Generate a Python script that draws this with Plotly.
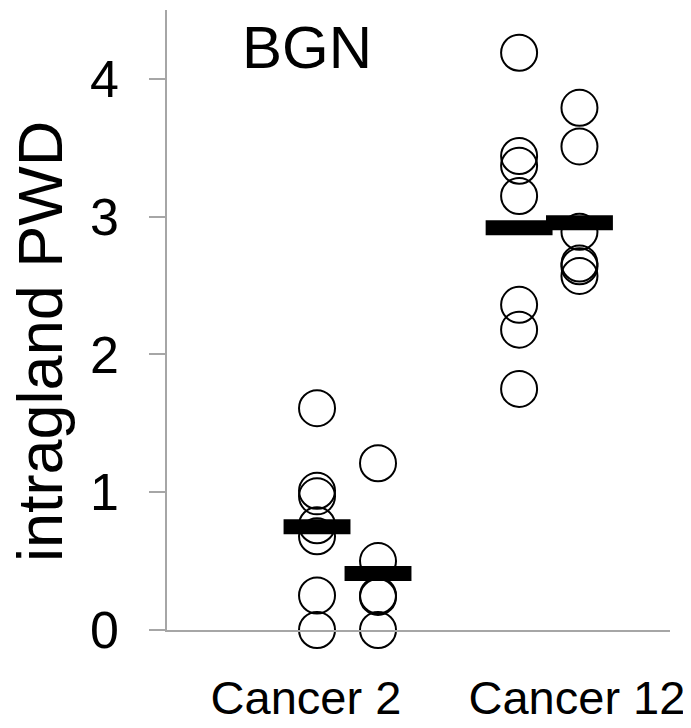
import plotly.graph_objects as go

# ---- data ----
categories = ["Cancer 2", "Cancer 12"]
gene = "BGN"
y_title = "intragland PWD"

cancer2_a = [1.61, 1.01, 0.97, 0.76, 0.68, 0.25, 0.0]
cancer2_b = [1.21, 0.50, 0.25, 0.24, 0.0]
cancer12_a = [4.19, 3.44, 3.37, 3.15, 2.36, 2.18, 1.75]
cancer12_b = [3.79, 3.51, 2.89, 2.66, 2.64, 2.57]

mean_values = [0.75, 0.41, 2.92, 2.955]

y_ticks = [0, 1, 2, 3, 4]

# ---- layout constants (positions / styles) ----
group_x = [1.193, 1.678, 2.80, 3.28]
label_x = [1.105, 3.26]
half_w = 0.266
series = [cancer2_a, cancer2_b, cancer12_a, cancer12_b]

FONT = "Liberation Sans, Arial, sans-serif"

fig = go.Figure()

for gx, vals in zip(group_x, series):
    fig.add_trace(go.Scatter(
        x=[gx] * len(vals), y=vals, mode="markers",
        marker=dict(symbol="circle", size=36, color="rgba(0,0,0,0)",
                    line=dict(color="black", width=2)),
        showlegend=False, hoverinfo="y", cliponaxis=False))

for gx, m in zip(group_x, mean_values):
    fig.add_trace(go.Scatter(
        x=[gx - half_w, gx + half_w], y=[m, m], mode="lines",
        line=dict(color="black", width=15),
        showlegend=False, hoverinfo="y"))

# the page body adds an 8px offset, so the figure is 8px smaller each way
fig.update_layout(
    width=683, height=720,
    margin=dict(l=159, r=21, t=2, b=98, autoexpand=False),
    paper_bgcolor="white", plot_bgcolor="white",
    font=dict(family=FONT, color="black"),
    xaxis=dict(range=[0, 4], showgrid=False, zeroline=False, automargin=False,
               showline=True, linecolor="#A6A6A6", linewidth=1.5,
               tickmode="array", tickvals=label_x, ticktext=categories,
               ticks="", tickfont=dict(size=47, family=FONT),
               ticklabelstandoff=26),
    yaxis=dict(range=[0, 4.5], showgrid=False, zeroline=False, automargin=False,
               showline=True, linecolor="#A6A6A6", linewidth=1.5,
               tickmode="array", tickvals=y_ticks,
               ticks="outside", ticklen=16, tickcolor="#A6A6A6", tickwidth=1.5,
               tickfont=dict(size=52, family=FONT),
               ticklabelstandoff=20),
    annotations=[
        dict(text=gene, xref="paper", yref="paper",
             x=(307 - 167) / 503, y=(630 - 47) / 620,
             xanchor="center", yanchor="middle", showarrow=False,
             font=dict(size=60, family=FONT, color="black")),
        dict(text=y_title, xref="paper", yref="paper",
             x=(40 - 167) / 503, y=(630 - 342) / 620,
             xanchor="center", yanchor="middle", textangle=-90,
             showarrow=False,
             font=dict(size=63, family=FONT, color="black")),
    ],
)

fig.write_html("out.html")
